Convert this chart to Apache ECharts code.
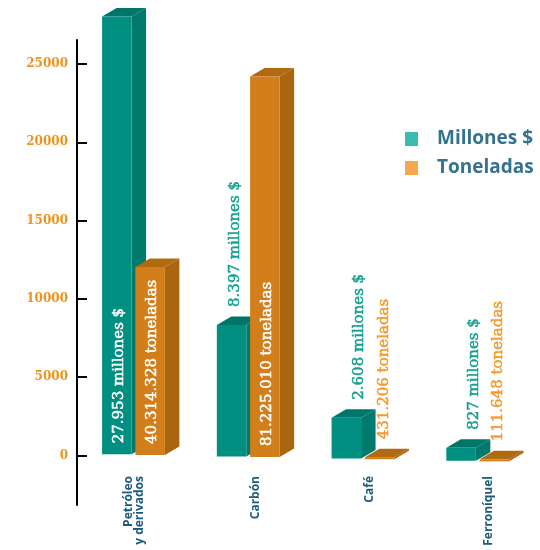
<!DOCTYPE html>
<html>
<head>
<meta charset="utf-8">
<script src="https://cdn.jsdelivr.net/npm/echarts@6/dist/echarts.min.js"></script>
<style>
html,body{margin:0;padding:0;background:#fff;}
#chart{width:540px;height:550px;}
</style>
</head>
<body>
<div id="chart"></div>
<script>
const categorias = ['Petróleo\ny derivados', 'Carbón', 'Café', 'Ferroníquel'];
const millones = [27953, 8397, 2608, 827];
const toneladasAltura = [12000, 24300, 130, 35];
const etiquetasMillones = ['27.953 millones $', '8.397 millones $', '2.608 millones $', '827 millones $'];
const etiquetasToneladas = ['40.314.328 toneladas', '81.225.010 toneladas', '431.206 toneladas', '111.648 toneladas'];
const yTicks = [0, 5000, 10000, 15000, 20000, 25000];

const chart = echarts.init(document.getElementById('chart'), null, {renderer: 'canvas'});

function makeRender(cfg, etiquetas, otros) {
  return function (params, api) {
    const idx = api.value(0);
    const val = api.value(1);
    const base = api.coord([idx, 0]);
    const topc = api.coord([idx, val]);
    const w = 29.5, dx = 14.5, dy = -8.5;
    const left = base[0] + cfg.off;
    const right = left + w;
    const mid = left + w / 2;
    const shift = (mid - 117) * 0.0187 - 1.2;
    const yb = base[1] + shift;
    let yt = topc[1] + shift;
    if (yb - yt < 2) yt = yb - 2;
    const h = yb - yt;
    const children = [
      {type: 'polygon', shape: {points: [[right, yt], [right + dx, yt + dy], [right + dx, yb + dy], [right, yb]]}, style: {fill: cfg.side}},
      {type: 'polygon', shape: {points: [[left, yt], [right, yt], [right + dx, yt + dy], [left + dx, yt + dy]]}, style: {fill: cfg.top}},
      {type: 'rect', shape: {x: left, y: yt, width: w, height: h}, style: {fill: cfg.front}}
    ];
    const inside = h > 170;
    let lx, ly, fill;
    if (inside) {
      lx = mid + 2; ly = yb - 11; fill = '#ffffff';
    } else {
      const blocked = otros[params.dataIndex] > val;
      lx = mid + (blocked ? 4 : 13); ly = yt - 18; fill = cfg.label;
    }
    children.push({
      type: 'text', x: lx, y: ly, rotation: Math.PI / 2,
      style: {text: etiquetas[params.dataIndex], fill: fill, fontFamily: 'DejaVu Serif', fontSize: 15,
        stroke: fill, lineWidth: 0.5,
        align: 'left', verticalAlign: 'middle'}
    });
    return {type: 'group', children: children};
  };
}

const cfgM = {off: -32.3, front: '#008f80', side: '#007a6d', top: '#00766a', label: '#15a08e'};
const cfgT = {off: 1, front: '#d27e1b', side: '#aa660f', top: '#b26a10', label: '#f49a2c'};

const labelShift = [null, 12, 12, 19];
const xData = categorias.map((c, i) => labelShift[i] === null ? c :
  {value: c, textStyle: {verticalAlign: 'top', lineHeight: labelShift[i]}});

chart.setOption({
  animation: false,
  grid: {left: 77, right: 4, top: 40, bottom: 45},
  legend: {
    orient: 'vertical', left: 400, top: 123,
    itemWidth: 13, itemHeight: 14, itemGap: 7,
    textStyle: {fontFamily: 'Open Sans', fontWeight: 'bold', fontSize: 19, color: '#34738f', lineHeight: 22, padding: [0, 0, 0, 14]},
    data: [
      {name: 'Millones $', icon: 'rect', itemStyle: {color: '#3bbab0'}},
      {name: 'Toneladas', icon: 'rect', itemStyle: {color: '#f7a84c'}}
    ]
  },
  xAxis: {
    type: 'category', data: xData,
    axisLine: {show: false}, axisTick: {show: false}, splitLine: {show: false},
    axisLabel: {rotate: 90, margin: -29, interval: 0, fontFamily: 'Open Sans', fontWeight: 'bold', fontSize: 12,
      color: '#1b5a7c', lineHeight: 11}
  },
  yAxis: {
    type: 'value', min: -3161, max: 26533,
    splitLine: {show: false},
    axisLine: {show: true, lineStyle: {color: '#000', width: 2}},
    axisTick: {show: true, inside: true, length: 10, lineStyle: {color: '#000', width: 2}, customValues: yTicks},
    axisLabel: {customValues: yTicks, margin: 9, formatter: v => String(v),
      fontFamily: 'DejaVu Serif', fontWeight: 'bold', fontSize: 12, color: '#f0921e'}
  },
  series: [
    {name: 'Millones $', type: 'custom', clip: false, itemStyle: {color: '#3bbab0'},
      renderItem: makeRender(cfgM, etiquetasMillones, toneladasAltura),
      data: millones.map((v, i) => [i, v])},
    {name: 'Toneladas', type: 'custom', clip: false, itemStyle: {color: '#f7a84c'},
      renderItem: makeRender(cfgT, etiquetasToneladas, millones.map(() => Infinity)),
      data: toneladasAltura.map((v, i) => [i, v])}
  ]
});
</script>
</body>
</html>
